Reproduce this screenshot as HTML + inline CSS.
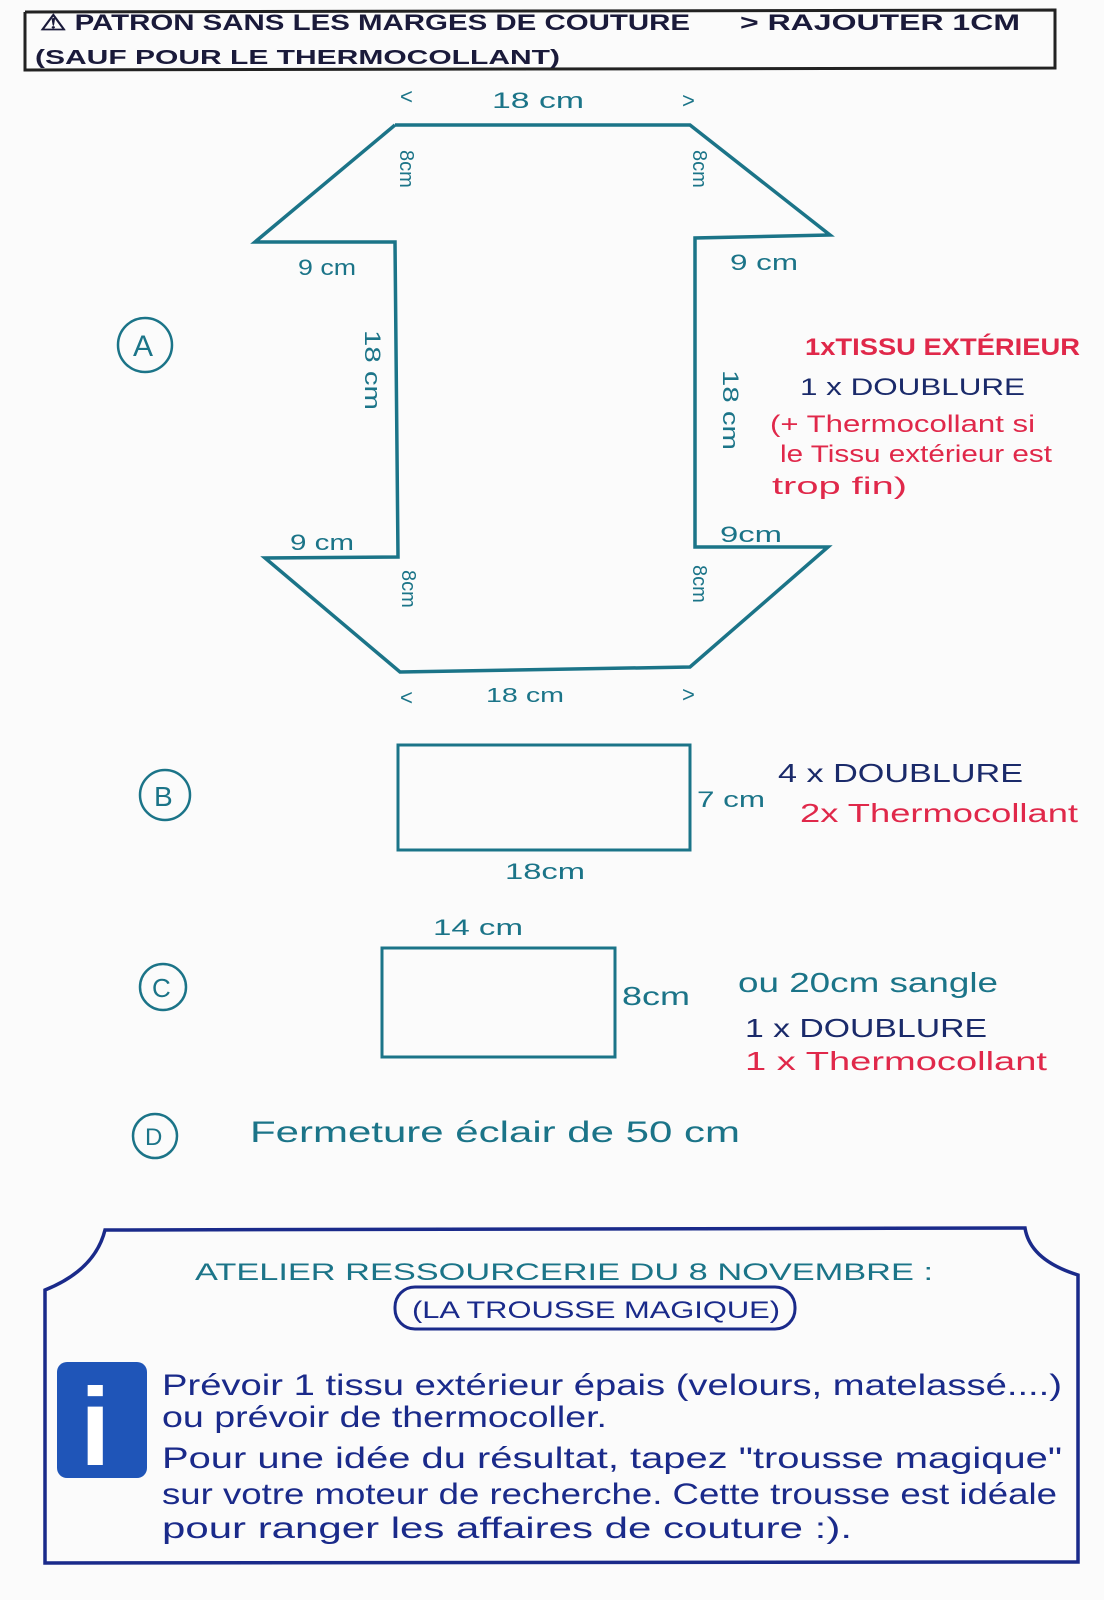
<!DOCTYPE html>
<html><head><meta charset="utf-8"><style>
html,body{margin:0;padding:0;background:#fbfbfb;}
svg{display:block;}
text{font-family:"Liberation Sans",sans-serif;}
</style></head><body>
<svg width="1104" height="1600" viewBox="0 0 1104 1600" xmlns="http://www.w3.org/2000/svg">
<rect width="1104" height="1600" fill="#fbfbfb"/>
<!-- header -->
<polyline points="25,12 1055,10 1055,68 25,70 25,12" fill="none" stroke="#222" stroke-width="3"/>
<text x="40" y="30" font-size="22" fill="#1a1a3a" font-weight="bold" textLength="650" lengthAdjust="spacingAndGlyphs">⚠ PATRON SANS LES MARGES DE COUTURE</text>
<text x="740" y="30" font-size="22" fill="#1a1a3a" font-weight="bold" textLength="280" lengthAdjust="spacingAndGlyphs">&gt; RAJOUTER 1CM</text>
<text x="35" y="64" font-size="20" fill="#1a1a3a" font-weight="bold" textLength="525" lengthAdjust="spacingAndGlyphs">(SAUF POUR LE THERMOCOLLANT)</text>

<!-- Shape A -->
<g fill="none" stroke="#1b7488" stroke-width="3.5">
<polyline points="395,125 690,125 830,235 695,238 695,547 828,547 690,667 400,672 265,558 398,557 395,242 255,242 395,125"/>
</g>
<g fill="#1b7488" font-size="22">
<text x="400" y="104">&lt;</text><text x="492" y="108" textLength="92" lengthAdjust="spacingAndGlyphs">18 cm</text><text x="682" y="108">&gt;</text>
<text x="298" y="275" textLength="58" lengthAdjust="spacingAndGlyphs">9 cm</text><text x="730" y="270" textLength="68" lengthAdjust="spacingAndGlyphs">9 cm</text>
<text x="290" y="550" textLength="64" lengthAdjust="spacingAndGlyphs">9 cm</text><text x="720" y="542" textLength="62" lengthAdjust="spacingAndGlyphs">9cm</text>
<text x="400" y="705">&lt;</text><text x="486" y="702" font-size="20" textLength="78" lengthAdjust="spacingAndGlyphs">18 cm</text><text x="682" y="702">&gt;</text>
<text transform="translate(400,150) rotate(90)" font-size="20">8cm</text>
<text transform="translate(693,150) rotate(90)" font-size="20">8cm</text>
<text transform="translate(402,570) rotate(90)" font-size="20">8cm</text>
<text transform="translate(693,565) rotate(90)" font-size="20">8cm</text>
<text transform="translate(365,330) rotate(90)" font-size="22" textLength="80" lengthAdjust="spacingAndGlyphs">18 cm</text>
<text transform="translate(723,370) rotate(90)" font-size="22" textLength="80" lengthAdjust="spacingAndGlyphs">18 cm</text>
</g>
<g fill="none" stroke="#1b7488" stroke-width="2.5">
<circle cx="145" cy="345" r="27"/><circle cx="165" cy="795" r="25"/>
<circle cx="163" cy="987" r="23"/><circle cx="155" cy="1136" r="22"/>
</g>
<g fill="#1b7488" font-size="30">
<text x="133" y="356">A</text><text x="154" y="806" font-size="28">B</text>
<text x="152" y="997" font-size="26">C</text><text x="145" y="1145" font-size="24">D</text>
</g>
<text x="805" y="355" font-size="24" fill="#e0284a" font-weight="bold" textLength="275" lengthAdjust="spacingAndGlyphs">1xTISSU EXTÉRIEUR</text>
<text x="800" y="395" font-size="24" fill="#1a2a6a" textLength="225" lengthAdjust="spacingAndGlyphs">1 x DOUBLURE</text>
<g fill="#e0284a" font-size="24">
<text x="770" y="432" textLength="265" lengthAdjust="spacingAndGlyphs">(+ Thermocollant si</text>
<text x="780" y="462" textLength="272" lengthAdjust="spacingAndGlyphs">le Tissu extérieur est</text>
<text x="772" y="494" textLength="135" lengthAdjust="spacingAndGlyphs">trop fin)</text>
</g>

<!-- B -->
<rect x="398" y="745" width="292" height="105" fill="none" stroke="#1b7488" stroke-width="3"/>
<text x="697" y="807" font-size="22" fill="#1b7488" textLength="68" lengthAdjust="spacingAndGlyphs">7 cm</text>
<text x="505" y="879" font-size="22" fill="#1b7488" textLength="80" lengthAdjust="spacingAndGlyphs">18cm</text>
<text x="778" y="782" font-size="26" fill="#1a2a6a" textLength="245" lengthAdjust="spacingAndGlyphs">4 x DOUBLURE</text>
<text x="800" y="822" font-size="26" fill="#e0284a" textLength="278" lengthAdjust="spacingAndGlyphs">2x Thermocollant</text>

<!-- C -->
<text x="433" y="935" font-size="22" fill="#1b7488" textLength="90" lengthAdjust="spacingAndGlyphs">14 cm</text>
<rect x="382" y="948" width="233" height="109" fill="none" stroke="#1b7488" stroke-width="3"/>
<text x="622" y="1005" font-size="26" fill="#1b7488" textLength="68" lengthAdjust="spacingAndGlyphs">8cm</text>
<text x="738" y="992" font-size="28" fill="#1b7488" textLength="260" lengthAdjust="spacingAndGlyphs">ou 20cm sangle</text>
<text x="745" y="1037" font-size="26" fill="#1a2a6a" textLength="242" lengthAdjust="spacingAndGlyphs">1 x DOUBLURE</text>
<text x="745" y="1070" font-size="26" fill="#e0284a" textLength="302" lengthAdjust="spacingAndGlyphs">1 x Thermocollant</text>

<!-- D -->
<text x="250" y="1142" font-size="30" fill="#1b7488" textLength="490" lengthAdjust="spacingAndGlyphs">Fermeture éclair de 50 cm</text>

<!-- bottom box -->
<path d="M105,1230 L1025,1228 Q1030,1260 1078,1275 L1078,1562 L45,1563 L45,1290 Q95,1270 105,1230 Z" fill="none" stroke="#1a2a8a" stroke-width="3.5"/>
<text x="195" y="1280" font-size="24" fill="#1b7488" textLength="738" lengthAdjust="spacingAndGlyphs">ATELIER RESSOURCERIE DU 8 NOVEMBRE :</text>
<rect x="395" y="1287" width="400" height="42" rx="20" fill="none" stroke="#1a2a8a" stroke-width="3"/>
<text x="412" y="1318" font-size="24" fill="#1a2a8a" textLength="368" lengthAdjust="spacingAndGlyphs">(LA TROUSSE MAGIQUE)</text>
<rect x="57" y="1362" width="90" height="116" rx="10" fill="#1f55b8"/>
<text x="80" y="1465" font-size="110" fill="#fff" font-family="Liberation Serif,serif" font-weight="bold">i</text>
<g fill="#1a2a8a" font-size="30">
<text x="162" y="1395" textLength="900" lengthAdjust="spacingAndGlyphs">Prévoir 1 tissu extérieur épais (velours, matelassé....)</text>
<text x="162" y="1427" textLength="445" lengthAdjust="spacingAndGlyphs">ou prévoir de thermocoller.</text>
<text x="162" y="1468" textLength="900" lengthAdjust="spacingAndGlyphs">Pour une idée du résultat, tapez "trousse magique"</text>
<text x="162" y="1504" textLength="895" lengthAdjust="spacingAndGlyphs">sur votre moteur de recherche. Cette trousse est idéale</text>
<text x="162" y="1538" textLength="690" lengthAdjust="spacingAndGlyphs">pour ranger les affaires de couture :).</text>
</g>
</svg>
</body></html>
